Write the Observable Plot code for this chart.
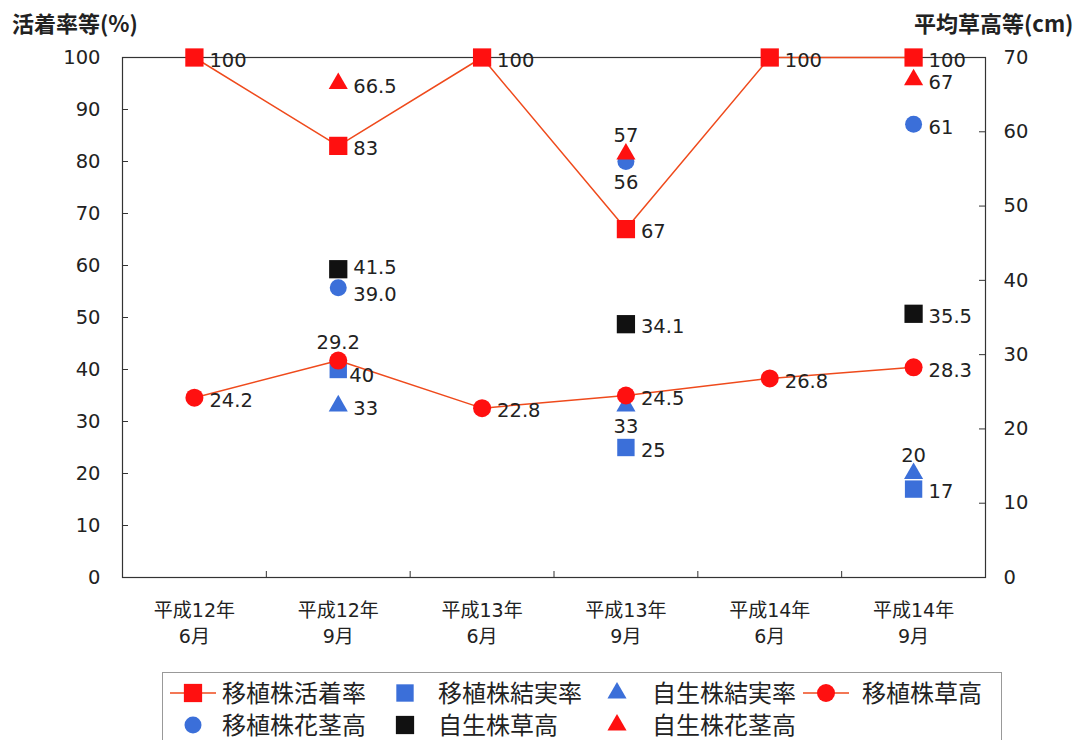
<!DOCTYPE html>
<html lang="ja">
<head>
<meta charset="utf-8">
<script src="https://cdn.jsdelivr.net/npm/d3@7"></script>
<script src="https://cdn.jsdelivr.net/npm/@observablehq/plot@0.6"></script>
<style>
  html, body { margin: 0; padding: 0; background: #fff; }
  #wrap { position: relative; width: 1088px; height: 740px; overflow: hidden; background: #fff;
          font-family: "DejaVu Sans", "Noto Sans CJK JP", sans-serif; color: #222; }
  #chart { position: absolute; left: 0; top: 0; }
  .title { position: absolute; top: 10px; font-size: 22px; line-height: 24px; font-weight: bold;
           font-family: "Noto Sans CJK JP", "DejaVu Sans", sans-serif; color: #222; white-space: nowrap; }
  #legendBox { position: absolute; left: 162px; top: 672px; width: 840px; height: 90px;
               border: 1px solid #999; box-sizing: border-box; }
  .lg-text { position: absolute; font-size: 24px; line-height: 24px; font-family: "Noto Sans CJK JP", sans-serif;
             color: #222; white-space: nowrap; }
  .lg-sw { position: absolute; }
</style>
</head>
<body>
<div id="wrap">
  <div class="title" style="left:12px">活着率等(%)</div>
  <div class="title" style="left:914px">平均草高等(cm)</div>
  <div id="chart"></div>
  <div id="legendBox"></div>
</div>
<script>
// ---- data ----
const categories = ["平成12年\n6月", "平成12年\n9月", "平成13年\n6月", "平成13年\n9月", "平成14年\n6月", "平成14年\n9月"];
const survivalRate        = [100, 83, 100, 67, 100, 100];      // 移植株活着率 (%)
const transplantFruitRate = [null, 40, null, 25, null, 17];    // 移植株結実率 (%)
const nativeFruitRate     = [null, 33, null, 33, null, 20];    // 自生株結実率 (%)
const transplantHeight    = [24.2, 29.2, 22.8, 24.5, 26.8, 28.3]; // 移植株草高 (cm)
const transplantStalk     = [null, 39.0, null, 56, null, 61];  // 移植株花茎高 (cm)
const nativeHeight        = [null, 41.5, null, 34.1, null, 35.5]; // 自生株草高 (cm)
const nativeStalk         = [null, 66.5, null, 57, null, 67];  // 自生株花茎高 (cm)
const transplantStalkText = [null, "39.0", null, "56", null, "61"];
const leftTicks  = [0, 10, 20, 30, 40, 50, 60, 70, 80, 90, 100];
const rightTicks = [0, 10, 20, 30, 40, 50, 60, 70];

// label placement per point (r = right, ru = right-up, rd = right-down, rb = right-below, a = above, b = below)
const survivalPos        = ["r", "r", "r", "r", "r", "r"];
const transplantFruitPos = [null, "rb", null, "r", null, "r"];
const nativeFruitPos     = [null, "r", null, "b", null, "a"];
const transplantHeightPos= ["r", "a", "r", "r", "r", "r"];
const transplantStalkPos = [null, "rd", null, "b", null, "r"];
const nativeHeightPos    = [null, "ru", null, "r", null, "r"];
const nativeStalkPos     = [null, "r", null, "a", null, "r"];

// ---- styling ----
const RED = "#ff1010", BLUE = "#3b6fd9", BLACK = "#111", LINE = "#ef4a1c";
const k = 100 / 70; // right axis (0-70) mapped onto left axis (0-100)

function rows(values, axis, pos, texts) {
  return categories.map((c, i) => ({
    cat: c,
    value: values[i],
    y: values[i] == null ? null : (axis === "right" ? values[i] * k : values[i]),
    label: values[i] == null ? null : (texts ? texts[i] : String(values[i])),
    pos: pos[i]
  })).filter(d => d.value != null);
}

const sSurv  = rows(survivalRate, "left", survivalPos);
const sTFR   = rows(transplantFruitRate, "left", transplantFruitPos);
const sNFR   = rows(nativeFruitRate, "left", nativeFruitPos);
const sTH    = rows(transplantHeight, "right", transplantHeightPos);
const sTS    = rows(transplantStalk, "right", transplantStalkPos, transplantStalkText);
const sNH    = rows(nativeHeight, "right", nativeHeightPos);
const sNS    = rows(nativeStalk, "right", nativeStalkPos);
const allLabels = [...sSurv, ...sTFR, ...sNFR, ...sTH, ...sTS, ...sNH, ...sNS];

const W = 1088, H = 660, ML = 122, MR = 103, MT = 57, MB = 83;
const bw = (W - ML - MR) / categories.length;
const pxPerUnit = (H - MT - MB) / 100;

const placements = {
  r:  {dx: 15, dy: 3, textAnchor: "start"},
  ru: {dx: 15, dy: -1, textAnchor: "start"},
  rd: {dx: 15, dy: 7, textAnchor: "start"},
  rb: {dx: 11, dy: 6, textAnchor: "start"},
  a:  {dx: 0, dy: -18, textAnchor: "middle"},
  b:  {dx: 0, dy: 21, textAnchor: "middle"}
};

const labelMarks = Object.entries(placements).map(([key, p]) =>
  Plot.text(allLabels.filter(d => d.pos === key), {
    x: "cat", y: "y", text: "label", dx: p.dx, dy: p.dy, textAnchor: p.textAnchor,
    fontSize: 19.5, fill: "#222", lineAnchor: "middle"
  })
);

const chart = Plot.plot({
  width: W, height: H,
  marginLeft: ML, marginRight: MR, marginTop: MT, marginBottom: MB,
  style: {fontFamily: "'DejaVu Sans','Noto Sans CJK JP',sans-serif", fontSize: "19px", color: "#222", background: "transparent"},
  x: {type: "band", domain: categories, padding: 0, round: false, label: null},
  y: {domain: [0, 100], label: null},
  marks: [
    Plot.frame({stroke: "#333", strokeWidth: 1.2}),
    // inward tick marks
    Plot.tickY(leftTicks, {y: d => d, x: () => categories[0], insetRight: bw - 6, stroke: "#333"}),
    Plot.tickY(rightTicks.map(v => v * k), {y: d => d, x: () => categories[categories.length - 1], insetLeft: bw - 6, stroke: "#333"}),
    Plot.ruleX(categories.slice(1), {x: d => d, dx: -bw / 2, y1: 0, y2: 6 / pxPerUnit, stroke: "#333"}),
    // axes
    Plot.axisY(leftTicks, {anchor: "left", tickSize: 0, tickPadding: 22, fontSize: 19.5, label: null}),
    Plot.axisY(rightTicks.map(v => v * k), {anchor: "right", tickSize: 0, tickPadding: 18, fontSize: 19.5, label: null,
      tickFormat: d => String(Math.round(d / k))}),
    Plot.axisX({anchor: "bottom", tickSize: 0, tickPadding: 21, fontSize: 19, lineHeight: 1.36, label: null,
      fontFamily: "'DejaVu Sans','Noto Sans CJK JP',sans-serif"}),
    // primary-axis series
    Plot.line(sSurv, {x: "cat", y: "y", stroke: LINE, strokeWidth: 1.5}),
    Plot.dot(sSurv, {x: "cat", y: "y", symbol: "square", r: 10.3, fill: RED, stroke: "none"}),
    Plot.dot(sTFR, {x: "cat", y: "y", symbol: "square", r: 9.8, fill: BLUE, stroke: "none"}),
    Plot.dot(sNFR, {x: "cat", y: "y", symbol: "triangle", r: 7.1, fill: BLUE, stroke: "none"}),
    // secondary-axis series
    Plot.line(sTH, {x: "cat", y: "y", stroke: LINE, strokeWidth: 1.5}),
    Plot.dot(sTH, {x: "cat", y: "y", symbol: "circle", r: 9, fill: RED, stroke: "none"}),
    Plot.dot(sTS, {x: "cat", y: "y", symbol: "circle", r: 8.5, fill: BLUE, stroke: "none"}),
    Plot.dot(sNH, {x: "cat", y: "y", symbol: "square", r: 10.3, fill: BLACK, stroke: "none"}),
    Plot.dot(sNS, {x: "cat", y: "y", symbol: "triangle", r: 7.1, fill: RED, stroke: "none"}),
    ...labelMarks
  ]
});
document.getElementById("chart").append(chart);

// ---- legend (HTML below the plot area) ----
const legendItems = [
  {label: "移植株活着率", symbol: d3.symbolSquare,   r: 10.3, color: RED,   line: true,  sx: 193, tx: 222, cy: 693},
  {label: "移植株結実率", symbol: d3.symbolSquare,   r: 9.8,  color: BLUE,  line: false, sx: 405, tx: 438, cy: 693},
  {label: "自生株結実率", symbol: d3.symbolTriangle, r: 7.1,  color: BLUE,  line: false, sx: 617, tx: 652, cy: 693},
  {label: "移植株草高",   symbol: d3.symbolCircle,   r: 9,    color: RED,   line: true,  sx: 826, tx: 862, cy: 693},
  {label: "移植株花茎高", symbol: d3.symbolCircle,   r: 8.5,  color: BLUE,  line: false, sx: 193, tx: 222, cy: 725},
  {label: "自生株草高",   symbol: d3.symbolSquare,   r: 10.3, color: BLACK, line: false, sx: 405, tx: 438, cy: 725},
  {label: "自生株花茎高", symbol: d3.symbolTriangle, r: 7.1,  color: RED,   line: false, sx: 617, tx: 652, cy: 725}
];
const wrap = d3.select("#wrap");
for (const it of legendItems) {
  const sw = wrap.append("svg").attr("class", "lg-sw")
    .attr("width", 50).attr("height", 26)
    .style("left", (it.sx - 25) + "px").style("top", (it.cy - 13) + "px");
  if (it.line) sw.append("line").attr("x1", 2).attr("x2", 48).attr("y1", 13).attr("y2", 13)
    .attr("stroke", LINE).attr("stroke-width", 1.5);
  sw.append("path").attr("transform", "translate(25,13)")
    .attr("d", d3.symbol(it.symbol, Math.PI * it.r * it.r)()).attr("fill", it.color);
  wrap.append("div").attr("class", "lg-text").text(it.label)
    .style("left", it.tx + "px").style("top", (it.cy - 13) + "px");
}
</script>
</body>
</html>
